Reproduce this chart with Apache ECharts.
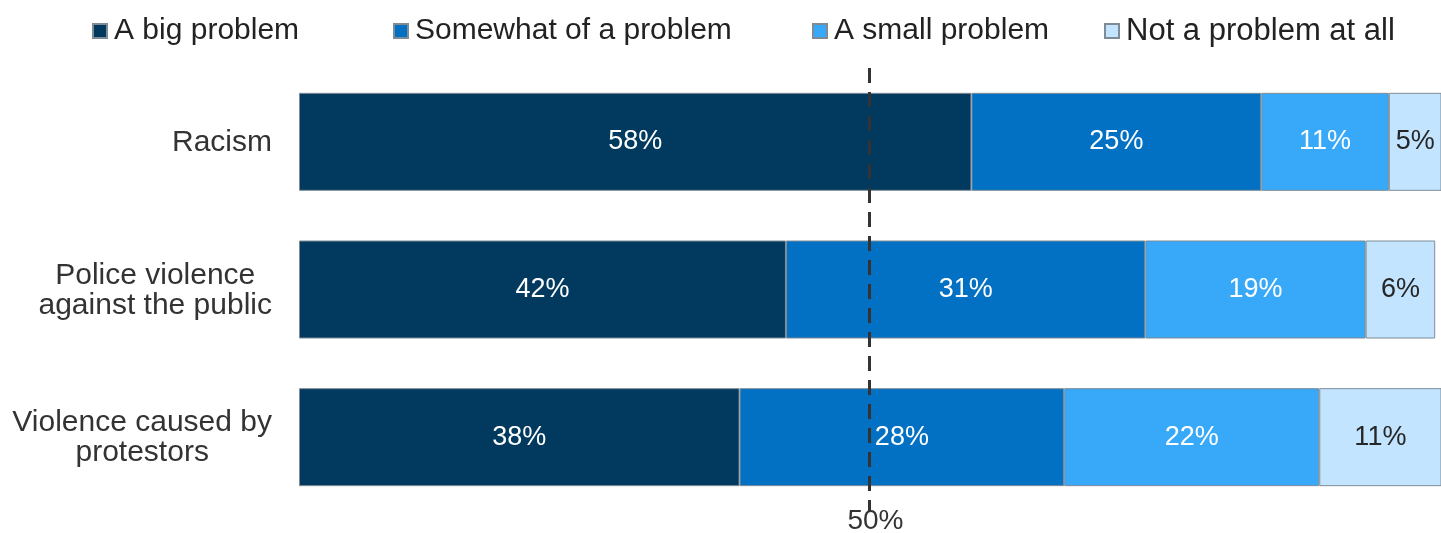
<!DOCTYPE html>
<html>
<head>
<meta charset="utf-8">
<script src="https://cdn.jsdelivr.net/npm/echarts@6/dist/echarts.min.js"></script>
<style>
html,body{margin:0;padding:0;background:#fff;}
#c{width:1441px;height:533px;}
</style>
</head>
<body>
<div id="c"></div>
<script>
const categories = ['Racism', 'Police violence\nagainst the public', 'Violence caused by\nprotestors'];
const seriesNames = ['A big problem', 'Somewhat of a problem', 'A small problem', 'Not a problem at all'];
const bigProblem = [58, 42, 38];
const somewhatProblem = [25, 31, 28];
const smallProblem = [11, 19, 22];
const notProblem = [5, 6, 11];
const midlineValue = 49.2;
const midlineLabel = '50%';

const colors = ['#023a5f', '#0271c4', '#38a8f8', '#c2e4ff'];
const labelColors = ['#ffffff', '#ffffff', '#ffffff', '#262626'];
const values = [bigProblem, somewhatProblem, smallProblem, notProblem];
const legendLefts = [92, 393, 812, 1104];
const legendFontSizes = [30, 30, 30, 31];
const FONT = '"Liberation Sans", Arial, sans-serif';

const chart = echarts.init(document.getElementById('c'), null, {renderer: 'canvas'});

const series = seriesNames.map((name, i) => {
  const s = {
    name: name,
    type: 'bar',
    stack: 'total',
    barWidth: 98,
    data: values[i],
    itemStyle: {color: colors[i], borderColor: '#7f8c96', borderWidth: 1},
    label: {
      show: true,
      position: 'inside',
      formatter: p => p.value + '%',
      color: labelColors[i],
      fontFamily: FONT,
      fontSize: 27
    },
    emphasis: {disabled: true}
  };
  if (i === 0) {
    s.markLine = {
      silent: true,
      symbol: 'none',
      z: 10,
      lineStyle: {type: [15, 9], width: 3, color: '#333333'},
      label: {
        show: true,
        position: 'end',
        formatter: midlineLabel,
        distance: 0,
        color: '#333333',
        fontFamily: FONT,
        fontSize: 28,
        lineHeight: 20,
        padding: [0, 0, 0, 12]
      },
      data: [{xAxis: midlineValue}]
    };
  }
  return s;
});

const legends = seriesNames.map((name, i) => ({
  top: 15,
  left: legendLefts[i],
  padding: 0,
  icon: 'rect',
  itemWidth: 14,
  itemHeight: 14,
  textStyle: {color: '#222222', fontSize: legendFontSizes[i], fontFamily: FONT, lineHeight: 32, padding: [0, 0, 0, 2]},
  data: [name]
}));

chart.setOption({
  animation: false,
  backgroundColor: '#ffffff',
  textStyle: {fontFamily: FONT},
  legend: legends,
  grid: {left: 299, right: 0, top: 68, bottom: 22, containLabel: false},
  xAxis: {
    type: 'value', min: 0, max: 98.5, show: false,
    splitLine: {show: false}
  },
  yAxis: {
    type: 'category',
    inverse: true,
    data: categories,
    axisLine: {show: false},
    axisTick: {show: false},
    axisLabel: {
      margin: 27,
      formatter: v => v.split('\n').map(l => '{c|' + l + '}').join('\n'),
      rich: {c: {align: 'center', color: '#333333', fontSize: 30, fontFamily: FONT, lineHeight: 30, padding: [2, 0, 0, 0]}}
    }
  },
  series: series
});
</script>
</body>
</html>
